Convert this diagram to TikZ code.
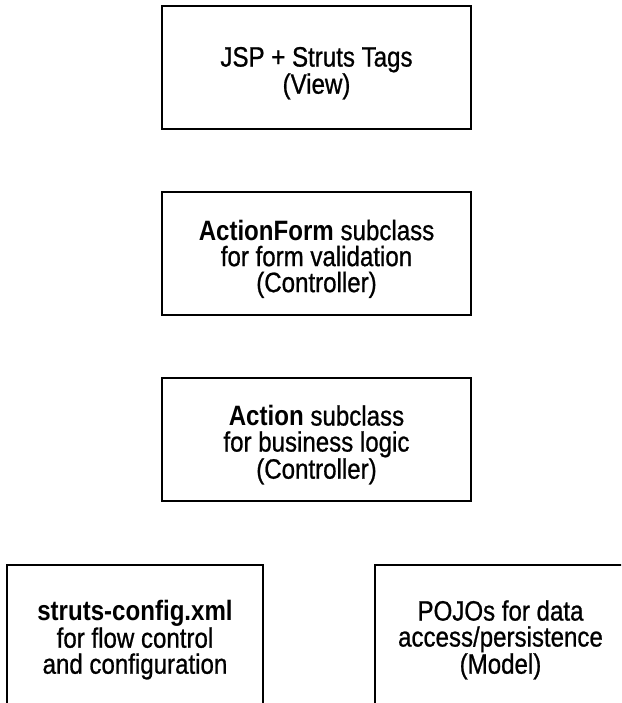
\documentclass[tikz,border=0pt]{standalone}
\usepackage{fontspec}
\setmainfont{Liberation Sans}[FakeStretch=0.86,UprightFeatures={FakeBold=0.8}]
\usetikzlibrary{positioning}

\begin{document}
\begin{tikzpicture}[x=1pt,y=-1pt]
\useasboundingbox (0,0) rectangle (621,703);
\clip (0,0) rectangle (621,703);
\begin{scope}[line width=2pt,
		node distance=186pt,on grid,
		layer/.style={rectangle,draw,align=center,
			minimum width=309pt,minimum height=123pt,inner sep=0pt,
			font=\fontsize{28pt}{26pt}\selectfont},
		part/.style={layer,minimum width=256pt,minimum height=140pt}]
   \node [layer] (view)   at (316.5,67.5) {\rule{0pt}{31pt}JSP + Struts Tags\\(View)};
   \node [layer] (form)   [below=of view] {\rule{0pt}{31pt}\textbf{ActionForm} subclass\\for form validation\\(Controller)};
   \node [layer] (act)    [below=of form] {\rule{0pt}{31pt}\textbf{Action} subclass\\for business logic\\(Controller)};
   % bottom row runs off the page
   \node [part]  (config) [below=of act,xshift=-181.5pt,yshift=-9pt] {\rule{0pt}{31pt}\textbf{struts-config.xml}\\for flow control\\and configuration};
   \node [part]  (pojo)   [below=of act,xshift=184pt,yshift=-9pt,minimum width=252pt] {\rule{0pt}{31pt}POJOs for data\\access/persistence\\(Model)};
\end{scope}
\end{tikzpicture}
\end{document}
